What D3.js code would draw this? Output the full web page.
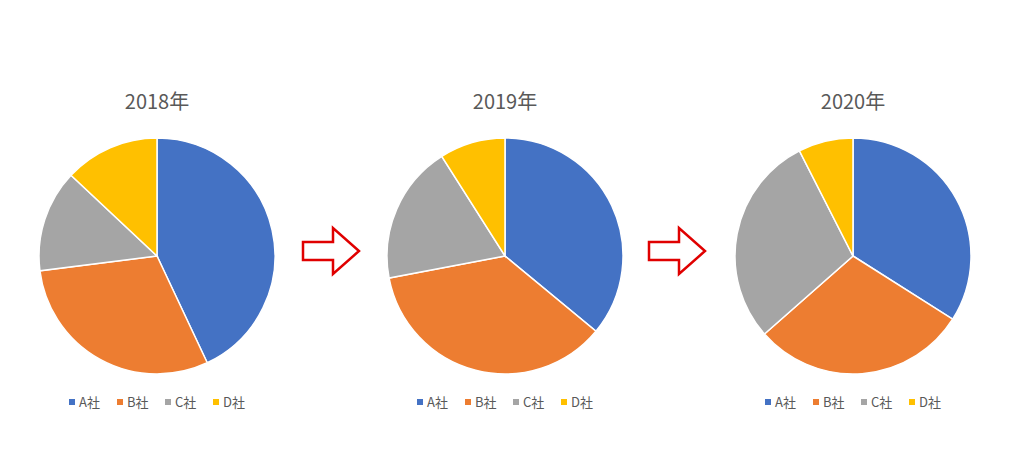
<!DOCTYPE html>
<html><head><meta charset="utf-8">
<script src="https://cdn.jsdelivr.net/npm/d3@7"></script>
<style>body{margin:0;background:#fff}</style>
</head><body>
<svg id="chart" width="1024" height="476"></svg>
<script>
// data
var years = ["2018年", "2019年", "2020年"];
var companies = ["A社", "B社", "C社", "D社"];
var shares2018 = [43, 30, 14, 13];
var shares2019 = [36, 36, 19, 9];
var shares2020 = [34, 29.5, 29, 7.5];
var allShares = [shares2018, shares2019, shares2020];
var colors = ["#4472c4", "#ed7d31", "#a5a5a5", "#ffc000"];

var svg = d3.select("#chart");
var centersX = [157, 505, 853];
var cy = 256, r = 118;

var pie = d3.pie().sort(null);
var arc = d3.arc().innerRadius(0).outerRadius(r);
var color = d3.scaleOrdinal().domain(companies).range(colors);

allShares.forEach(function(vals, i) {
  var g = svg.append("g").attr("transform", "translate(" + centersX[i] + "," + cy + ")");
  g.selectAll("path")
    .data(pie(vals))
    .enter().append("path")
    .attr("d", arc)
    .attr("fill", function(d, j) { return color(companies[j]); })
    .attr("stroke", "#fff")
    .attr("stroke-width", 1.5);

  // title
  svg.append("text")
    .attr("x", centersX[i]).attr("y", 109)
    .attr("text-anchor", "middle")
    .attr("font-family", "'Noto Sans CJK JP', sans-serif")
    .attr("font-size", 20).attr("fill", "#595959")
    .text(years[i]);

  // legend
  var lg = svg.append("g").attr("transform", "translate(" + (centersX[i] - 88) + ",402)");
  var item = lg.selectAll("g").data(companies).enter().append("g")
    .attr("transform", function(d, j) { return "translate(" + (j * 48) + ",0)"; });
  item.append("rect").attr("x", 0).attr("y", -3).attr("width", 6).attr("height", 6)
    .attr("fill", function(d) { return color(d); });
  item.append("text").attr("x", 10).attr("y", 5)
    .attr("font-family", "'Noto Sans CJK JP', sans-serif")
    .attr("font-size", 13).attr("fill", "#595959")
    .text(function(d) { return d; });
});

// arrows between pies
[303, 649].forEach(function(x0) {
  var pts = [[0, -9], [30, -9], [30, -23], [56, 0], [30, 23], [30, 9], [0, 9]];
  svg.append("polygon")
    .attr("points", pts.map(function(p) { return (x0 + p[0]) + "," + (251 + p[1]); }).join(" "))
    .attr("fill", "#fff").attr("stroke", "#e00000").attr("stroke-width", 2.5);
});
</script>
</body></html>
